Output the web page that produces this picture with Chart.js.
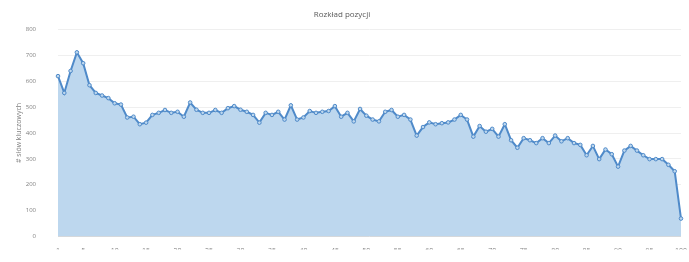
<!DOCTYPE html>
<html>
<head>
<meta charset="utf-8">
<script src="https://cdn.jsdelivr.net/npm/chart.js@4"></script>
<style>
  html, body { margin: 0; padding: 0; background: #fff; }
  #wrap { width: 689px; height: 262px; }
</style>
</head>
<body>
<div id="wrap"><canvas id="position-chart"></canvas></div>
<script>
const positions = [
  1, 2, 3, 4, 5, 6, 7, 8, 9, 10,
  11, 12, 13, 14, 15, 16, 17, 18, 19, 20,
  21, 22, 23, 24, 25, 26, 27, 28, 29, 30,
  31, 32, 33, 34, 35, 36, 37, 38, 39, 40,
  41, 42, 43, 44, 45, 46, 47, 48, 49, 50,
  51, 52, 53, 54, 55, 56, 57, 58, 59, 60,
  61, 62, 63, 64, 65, 66, 67, 68, 69, 70,
  71, 72, 73, 74, 75, 76, 77, 78, 79, 80,
  81, 82, 83, 84, 85, 86, 87, 88, 89, 90,
  91, 92, 93, 94, 95, 96, 97, 98, 99, 100
]
const keywordCounts = [
  620, 555, 640, 712, 670, 585, 555, 545, 535, 515,
  510, 460, 463, 434, 440, 470, 478, 489, 478, 482,
  463, 518, 490, 478, 478, 489, 478, 496, 504, 490,
  482, 470, 440, 478, 470, 482, 452, 507, 452, 460,
  485, 478, 482, 485, 504, 463, 478, 445, 493, 467,
  452, 445, 482, 489, 463, 470, 452, 390, 423, 441,
  434, 438, 441, 452, 470, 452, 386, 427, 405, 416,
  386, 434, 372, 343, 380, 372, 361, 380, 361, 390,
  368, 380, 361, 354, 314, 350, 299, 336, 318, 270,
  332, 350, 332, 314, 299, 299, 299, 277, 252, 69
]
const shownXTicks = [1, 5, 10, 15, 20, 25, 30, 35, 40, 45, 50, 55, 60, 65, 70, 75, 80, 85, 90, 95, 100]
const yTicks = [0, 100, 200, 300, 400, 500, 600, 700, 800]

const COLORS = {
  line: "#4f8ac9",
  fill: "#bdd7ee",
  grid: "#efefef",
  text: "#7f7f7f",
  title: "#595959"
}

const ctx = document.getElementById("position-chart")

const config = {
  type: "line",
  data: {
    labels: positions,
    datasets: [{
      label: "# słów kluczowych",
      data: keywordCounts,
      borderColor: COLORS.line,
      backgroundColor: COLORS.fill,
      fill: "origin",
      borderWidth: 2,
      tension: 0,
      pointRadius: 1.8,
      pointBorderWidth: 1,
      pointBackgroundColor: COLORS.fill,
      pointBorderColor: COLORS.line
    }]
  },
  options: {
    responsive: true,
    maintainAspectRatio: false,
    animation: false,
    layout: { padding: { left: 0, right: 5, top: 0, bottom: 0 } },
    plugins: {
      legend: { display: false },
      tooltip: { enabled: false },
      title: {
        display: true,
        text: "Rozkład pozycji",
        color: COLORS.title,
        font: { family: "Open Sans", size: 8, weight: "normal" },
        padding: { top: 10, bottom: 10 }
      }
    },
    scales: {
      x: {
        offset: false,
        grid: { display: false },
        border: { color: "#d9d9d9" },
        ticks: {
          autoSkip: false,
          maxRotation: 0,
          padding: 2,
          color: COLORS.text,
          font: { family: "Open Sans", size: 7 },
          callback: function (value, index) {
            const p = positions[index]
            return shownXTicks.includes(p) ? String(p) : ""
          }
        },
        afterFit: (scale) => { scale.height = 13 }
      },
      y: {
        min: 0,
        max: 800,
        grid: { color: COLORS.grid, drawTicks: false },
        border: { display: false },
        afterBuildTicks: (scale) => { scale.ticks = yTicks.map(v => ({ value: v })) },
        ticks: {
          padding: 22,
          color: COLORS.text,
          font: { family: "Open Sans", size: 6 }
        },
        title: {
          display: true,
          text: "# słów kluczowych",
          color: COLORS.text,
          font: { family: "Open Sans", size: 7 },
          padding: { top: 15, bottom: 0 }
        },
        afterFit: (scale) => { scale.width = 58 }
      }
    }
  }
}

new Chart(ctx, config)
</script>
</body>
</html>
